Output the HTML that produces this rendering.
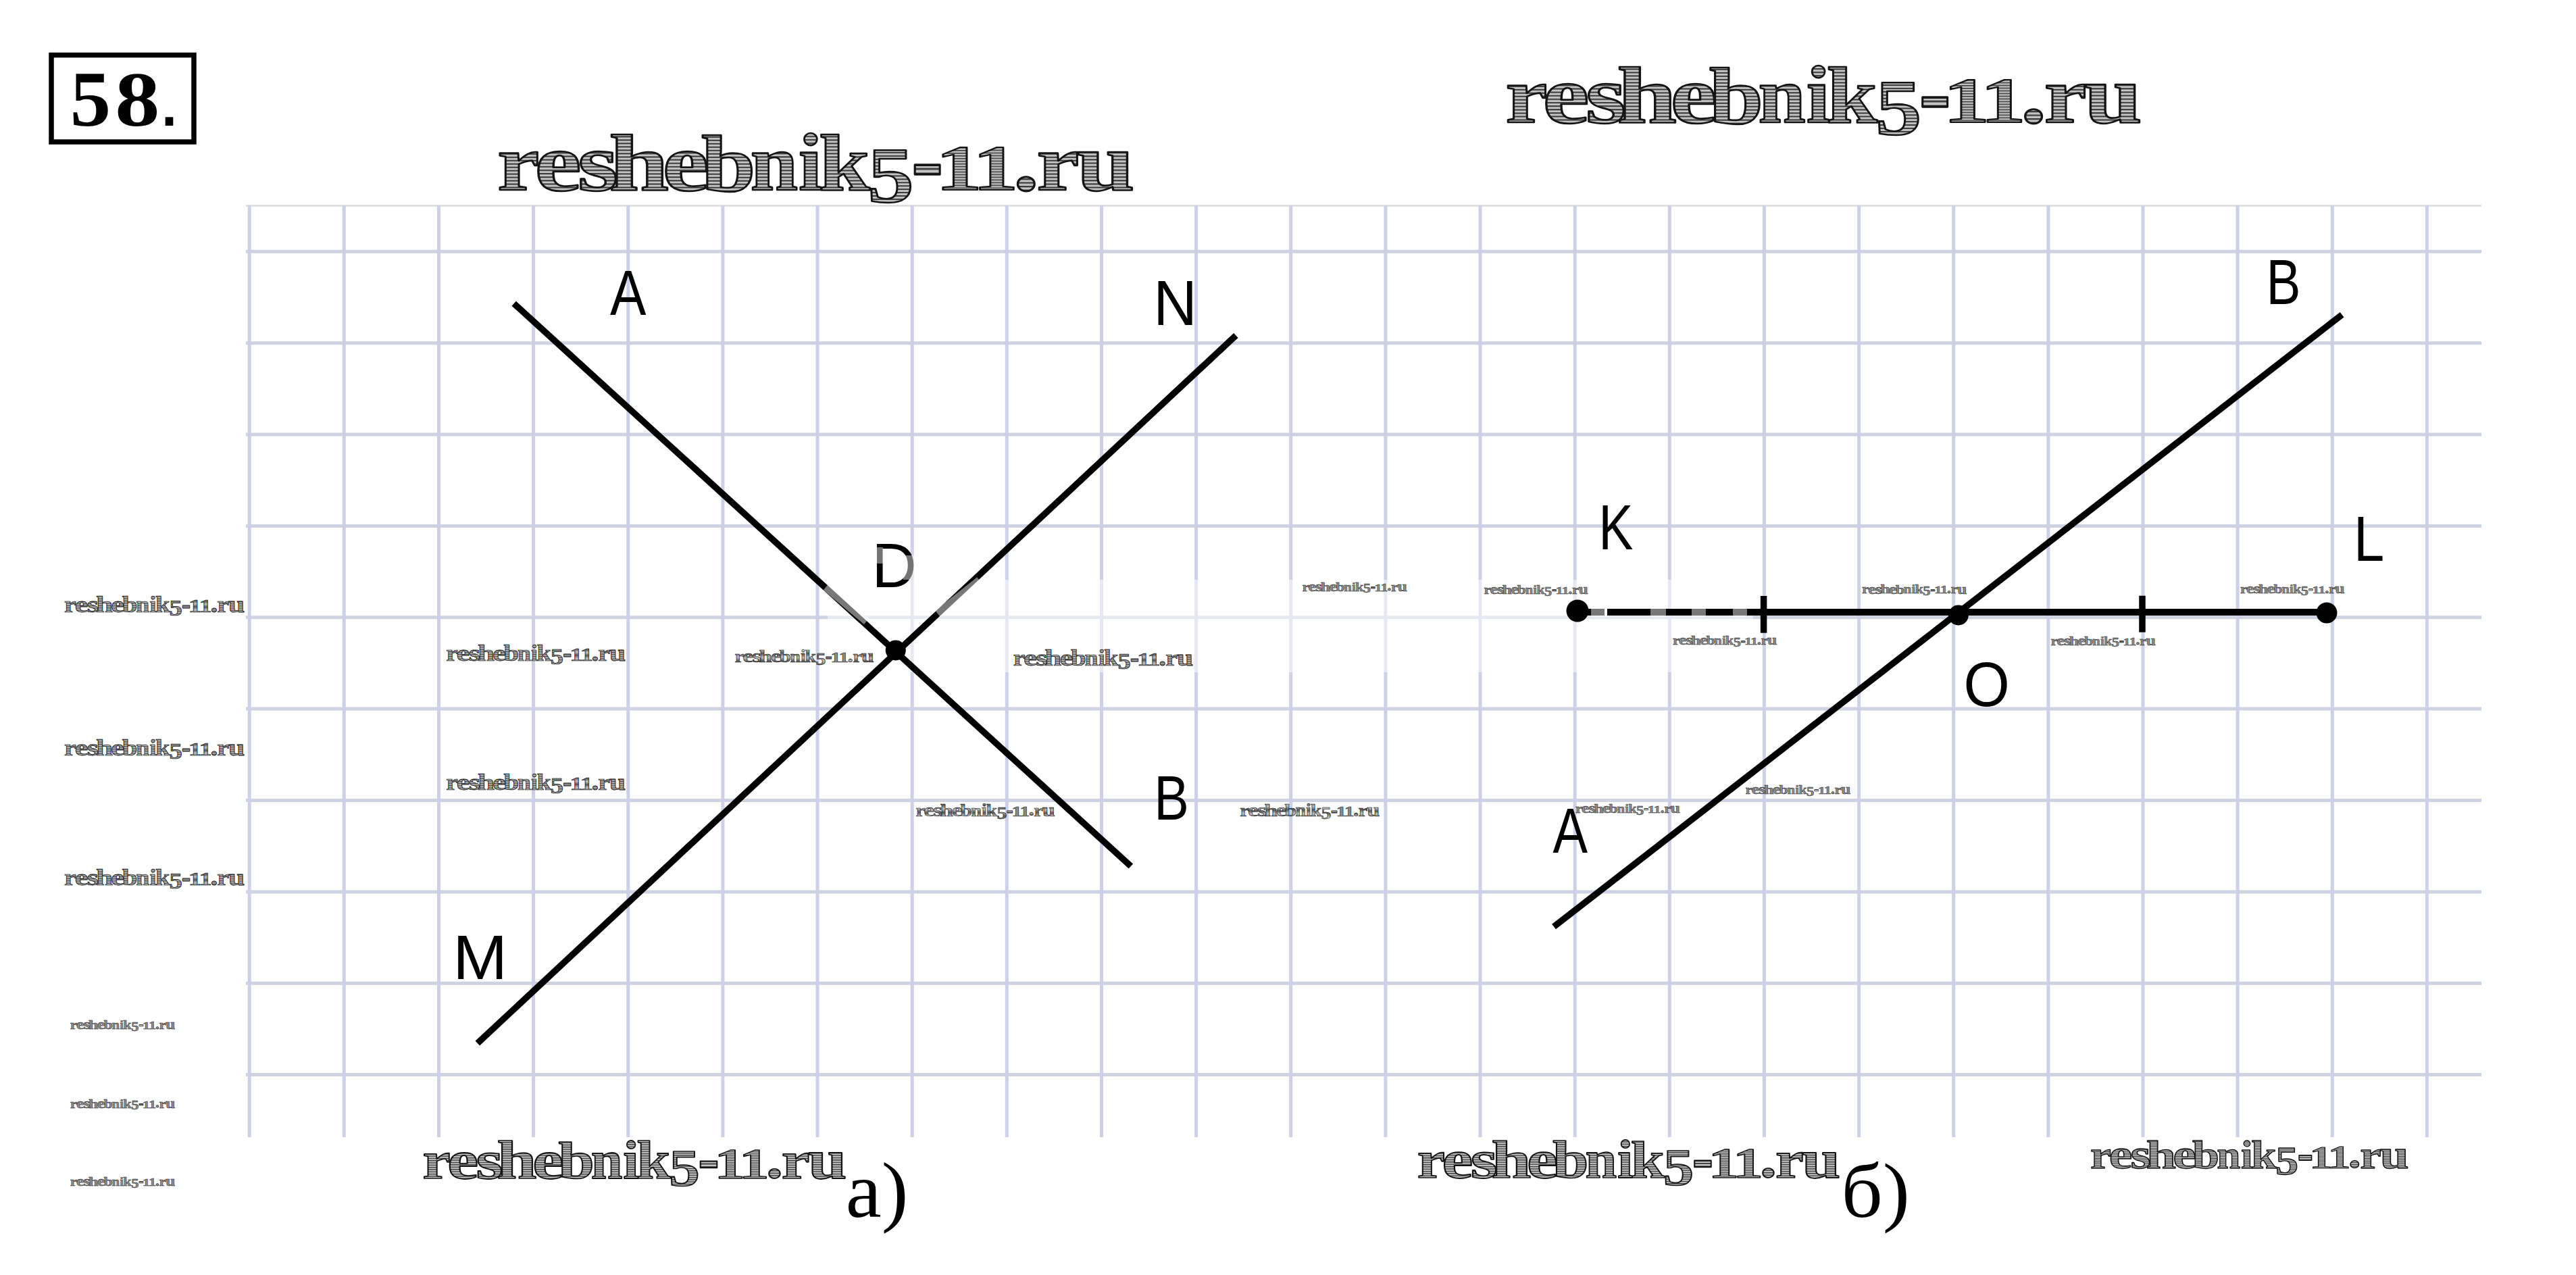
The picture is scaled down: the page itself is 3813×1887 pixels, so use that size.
<!DOCTYPE html>
<html><head><meta charset="utf-8"><title>58</title>
<style>
html,body{margin:0;padding:0;background:#fff;}
body{width:3813px;height:1887px;overflow:hidden;font-family:"Liberation Serif",serif;}
svg{display:block;}
</style></head>
<body>
<svg width="3813" height="1887" viewBox="0 0 3813 1887">
<defs>
<pattern id="hatch" patternUnits="userSpaceOnUse" width="8" height="4.2">
<rect width="8" height="4.2" fill="#c4c4c4"/>
<rect width="8" height="1.7" fill="#3a3a3a"/>
</pattern>
<g id="wmg" fill="url(#hatch)" stroke="#141414" stroke-width="2.2" stroke-linejoin="round"><text transform="matrix(1.49367 0 0 1.26316 -2.73 0.50)" font-family="Liberation Serif" font-weight="bold" font-size="100" >r</text><text transform="matrix(1.66234 0 0 1.30208 56.18 0.70)" font-family="Liberation Serif" font-weight="bold" font-size="100" >e</text><text transform="matrix(1.65075 0 0 1.30208 124.05 0.70)" font-family="Liberation Serif" font-weight="bold" font-size="100" >s</text><text transform="matrix(1.69903 0 0 1.27338 173.75 0.50)" font-family="Liberation Serif" font-weight="bold" font-size="100" >h</text><text transform="matrix(1.66234 0 0 1.30208 258.18 0.70)" font-family="Liberation Serif" font-weight="bold" font-size="100" >e</text><text transform="matrix(1.54000 0 0 1.26950 319.69 0.73)" font-family="Liberation Serif" font-weight="bold" font-size="100" >b</text><text transform="matrix(1.34951 0 0 1.27660 397.13 0.50)" font-family="Liberation Serif" font-weight="bold" font-size="100" >n</text><text transform="matrix(1.34694 0 0 1.28058 473.31 0.50)" font-family="Liberation Serif" font-weight="bold" font-size="100" >i</text><text transform="matrix(1.45094 0 0 1.27338 505.37 0.50)" font-family="Liberation Serif" font-weight="bold" font-size="100" >k</text><text transform="matrix(1.46118 0 0 1.25263 582.46 19.05)" font-family="Liberation Serif" font-weight="bold" font-size="100" >5</text><text transform="matrix(1.51923 0 0 1.75294 651.48 9.58)" font-family="Liberation Serif" font-weight="bold" font-size="100" >-</text><text transform="matrix(1.47568 0 0 1.00758 689.69 0.50)" font-family="Liberation Serif" font-weight="bold" font-size="100" >1</text><text transform="matrix(1.44324 0 0 1.01515 748.45 0.50)" font-family="Liberation Serif" font-weight="bold" font-size="100" >1</text><text transform="matrix(1.63125 0 0 1.40000 812.36 -0.50)" font-family="Liberation Serif" font-weight="bold" font-size="100" >.</text><text transform="matrix(1.51392 0 0 1.26316 849.52 0.50)" font-family="Liberation Serif" font-weight="bold" font-size="100" >r</text><text transform="matrix(1.64660 0 0 1.30851 912.73 0.69)" font-family="Liberation Serif" font-weight="bold" font-size="100" >u</text></g>
</defs>
<rect width="3813" height="1887" fill="#fff"/>
<g id="grid">
<line x1="364" y1="304.5" x2="3673" y2="304.5" stroke="#d9dbe0" stroke-width="2.5"/>
<line x1="364" y1="372.3" x2="3673" y2="372.3" stroke="#ced2e1" stroke-width="5"/>
<line x1="364" y1="507.7" x2="3673" y2="507.7" stroke="#ced2e1" stroke-width="5"/>
<line x1="364" y1="643.0" x2="3673" y2="643.0" stroke="#ced2e1" stroke-width="5"/>
<line x1="364" y1="778.4" x2="3673" y2="778.4" stroke="#ced2e1" stroke-width="5"/>
<line x1="364" y1="913.8" x2="3673" y2="913.8" stroke="#ced2e1" stroke-width="5"/>
<line x1="364" y1="1049.1" x2="3673" y2="1049.1" stroke="#ced2e1" stroke-width="5"/>
<line x1="364" y1="1184.5" x2="3673" y2="1184.5" stroke="#ced2e1" stroke-width="5"/>
<line x1="364" y1="1319.9" x2="3673" y2="1319.9" stroke="#ced2e1" stroke-width="5"/>
<line x1="364" y1="1455.2" x2="3673" y2="1455.2" stroke="#ced2e1" stroke-width="5"/>
<line x1="364" y1="1590.6" x2="3673" y2="1590.6" stroke="#ced2e1" stroke-width="5"/>
<line x1="369.2" y1="304" x2="369.2" y2="1683" stroke="#ced0e8" stroke-width="5"/>
<line x1="509.3" y1="304" x2="509.3" y2="1683" stroke="#ced0e8" stroke-width="5"/>
<line x1="649.5" y1="304" x2="649.5" y2="1683" stroke="#ced0e8" stroke-width="5"/>
<line x1="789.6" y1="304" x2="789.6" y2="1683" stroke="#ced0e8" stroke-width="5"/>
<line x1="929.8" y1="304" x2="929.8" y2="1683" stroke="#ced0e8" stroke-width="5"/>
<line x1="1069.9" y1="304" x2="1069.9" y2="1683" stroke="#ced0e8" stroke-width="5"/>
<line x1="1210.0" y1="304" x2="1210.0" y2="1683" stroke="#ced0e8" stroke-width="5"/>
<line x1="1350.2" y1="304" x2="1350.2" y2="1683" stroke="#ced0e8" stroke-width="5"/>
<line x1="1490.3" y1="304" x2="1490.3" y2="1683" stroke="#ced0e8" stroke-width="5"/>
<line x1="1630.5" y1="304" x2="1630.5" y2="1683" stroke="#ced0e8" stroke-width="5"/>
<line x1="1770.6" y1="304" x2="1770.6" y2="1683" stroke="#ced0e8" stroke-width="5"/>
<line x1="1910.7" y1="304" x2="1910.7" y2="1683" stroke="#ced0e8" stroke-width="5"/>
<line x1="2050.9" y1="304" x2="2050.9" y2="1683" stroke="#ced0e8" stroke-width="5"/>
<line x1="2191.0" y1="304" x2="2191.0" y2="1683" stroke="#ced0e8" stroke-width="5"/>
<line x1="2331.2" y1="304" x2="2331.2" y2="1683" stroke="#ced0e8" stroke-width="5"/>
<line x1="2471.3" y1="304" x2="2471.3" y2="1683" stroke="#ced0e8" stroke-width="5"/>
<line x1="2611.4" y1="304" x2="2611.4" y2="1683" stroke="#ced0e8" stroke-width="5"/>
<line x1="2751.6" y1="304" x2="2751.6" y2="1683" stroke="#ced0e8" stroke-width="5"/>
<line x1="2891.7" y1="304" x2="2891.7" y2="1683" stroke="#ced0e8" stroke-width="5"/>
<line x1="3031.9" y1="304" x2="3031.9" y2="1683" stroke="#ced0e8" stroke-width="5"/>
<line x1="3172.0" y1="304" x2="3172.0" y2="1683" stroke="#ced0e8" stroke-width="5"/>
<line x1="3312.1" y1="304" x2="3312.1" y2="1683" stroke="#ced0e8" stroke-width="5"/>
<line x1="3452.3" y1="304" x2="3452.3" y2="1683" stroke="#ced0e8" stroke-width="5"/>
<line x1="3592.4" y1="304" x2="3592.4" y2="1683" stroke="#ced0e8" stroke-width="5"/>
<rect x="1225" y="858" width="1370" height="137" fill="#fff" fill-opacity="0.5"/>
</g>
<g id="wm">
<use href="#wmg" transform="matrix(0.93660 0 0 0.93660 738.80 281.00)"/>
<use href="#wmg" transform="matrix(0.93560 0 0 0.93560 2231.00 181.00)"/>
<use href="#wmg" transform="matrix(0.62330 0 0 0.62330 627.30 1743.20)"/>
<use href="#wmg" transform="matrix(0.62200 0 0 0.62200 2099.50 1742.50)"/>
<use href="#wmg" transform="matrix(0.46820 0 0 0.46820 3095.40 1728.70)"/>
<use href="#wmg" transform="matrix(0.26540 0 0 0.26540 95.80 906.00)"/>
<use href="#wmg" transform="matrix(0.26540 0 0 0.26540 95.80 1118.00)"/>
<use href="#wmg" transform="matrix(0.26540 0 0 0.26540 95.80 1310.00)"/>
<use href="#wmg" transform="matrix(0.15460 0 0 0.15460 104.20 1523.00)"/>
<use href="#wmg" transform="matrix(0.15460 0 0 0.15460 104.20 1639.50)"/>
<use href="#wmg" transform="matrix(0.15460 0 0 0.15460 104.20 1754.80)"/>
<use href="#wmg" transform="matrix(0.26410 0 0 0.26410 661.00 978.00)"/>
<use href="#wmg" transform="matrix(0.26410 0 0 0.26410 661.00 1169.00)"/>
<use href="#wmg" transform="matrix(0.20500 0 0 0.20500 1088.00 980.30)"/>
<use href="#wmg" transform="matrix(0.26460 0 0 0.26460 1500.40 985.00)"/>
<use href="#wmg" transform="matrix(0.20500 0 0 0.20500 1356.00 1207.60)"/>
<use href="#wmg" transform="matrix(0.20580 0 0 0.20580 1835.70 1208.00)"/>
<use href="#wmg" transform="matrix(0.15430 0 0 0.15430 1927.90 874.50)"/>
<use href="#wmg" transform="matrix(0.15310 0 0 0.15310 2196.90 878.60)"/>
<use href="#wmg" transform="matrix(0.15430 0 0 0.15430 2756.50 878.40)"/>
<use href="#wmg" transform="matrix(0.15360 0 0 0.15360 3316.40 878.00)"/>
<use href="#wmg" transform="matrix(0.15320 0 0 0.15320 2476.40 954.30)"/>
<use href="#wmg" transform="matrix(0.15430 0 0 0.15430 3035.90 954.50)"/>
<use href="#wmg" transform="matrix(0.15390 0 0 0.15390 2332.40 1203.00)"/>
<use href="#wmg" transform="matrix(0.15470 0 0 0.15470 2584.00 1175.00)"/>
</g>
<g id="fig">
<line x1="760.7" y1="449.2" x2="1673.9" y2="1282" stroke="#000" stroke-width="9.5"/>
<line x1="706.8" y1="1544" x2="1829.4" y2="496.5" stroke="#000" stroke-width="9.5"/>
<circle cx="1325.8" cy="962.5" r="15" fill="#000"/>
<line x1="2300" y1="1371.6" x2="3466.6" y2="465.7" stroke="#000" stroke-width="9.5"/>
<line x1="2335" y1="906" x2="3444" y2="906" stroke="#000" stroke-width="10"/>
<line x1="2610.6" y1="882" x2="2610.6" y2="936.7" stroke="#000" stroke-width="9.5"/>
<line x1="3171" y1="881.7" x2="3171" y2="935.7" stroke="#000" stroke-width="9.5"/>
<circle cx="2335" cy="904" r="16.5" fill="#000"/>
<circle cx="2898.8" cy="910.5" r="15" fill="#000"/>
<circle cx="3444" cy="907" r="15.5" fill="#000"/>
<line x1="1222.6" y1="868.6" x2="1282.8" y2="919.4" stroke="#fff" stroke-opacity="0.47" stroke-width="12"/>
<line x1="1388" y1="908.2" x2="1450" y2="859.0" stroke="#fff" stroke-opacity="0.47" stroke-width="12"/>
<rect x="2355" y="899" width="20" height="14" fill="#fff" fill-opacity="0.47"/>
<rect x="2443" y="899" width="23" height="14" fill="#fff" fill-opacity="0.47"/>
<rect x="2504" y="899" width="21" height="14" fill="#fff" fill-opacity="0.47"/>
<rect x="2565" y="899" width="21" height="14" fill="#fff" fill-opacity="0.47"/>
<rect x="2375" y="899" width="4" height="14" fill="#fff"/>
</g>
<g id="labels">
<text transform="matrix(0.80152 0 0 0.94058 902.90 466.10)" font-family="Liberation Sans" font-weight="normal" font-size="100" fill="#000" >A</text>
<text transform="matrix(0.89464 0 0 0.94493 1707.24 480.50)" font-family="Liberation Sans" font-weight="normal" font-size="100" fill="#000" >N</text>
<text transform="matrix(0.91765 0 0 0.92754 1290.56 868.50)" font-family="Liberation Sans" font-weight="normal" font-size="100" fill="#000" >D</text>
<text transform="matrix(0.97015 0 0 0.92754 670.14 1449.20)" font-family="Liberation Sans" font-weight="normal" font-size="100" fill="#000" >M</text>
<text transform="matrix(0.77383 0 0 0.92464 1708.21 1213.00)" font-family="Liberation Sans" font-weight="normal" font-size="100" fill="#000" >B</text>
<text transform="matrix(0.76870 0 0 0.94058 2366.35 813.40)" font-family="Liberation Sans" font-weight="normal" font-size="100" fill="#000" >K</text>
<text transform="matrix(0.81348 0 0 0.94928 3484.09 829.70)" font-family="Liberation Sans" font-weight="normal" font-size="100" fill="#000" >L</text>
<text transform="matrix(0.87883 0 0 0.91831 2906.45 1045.08)" font-family="Liberation Sans" font-weight="normal" font-size="100" fill="#000" >O</text>
<text transform="matrix(0.77273 0 0 0.93913 2298.61 1261.80)" font-family="Liberation Sans" font-weight="normal" font-size="100" fill="#000" >A</text>
<text transform="matrix(0.76449 0 0 0.94058 3354.58 450.10)" font-family="Liberation Sans" font-weight="normal" font-size="100" fill="#000" >B</text>
<rect x="1296" y="810" width="11" height="24" fill="#fff" fill-opacity="0.45"/>
<rect x="1337" y="822" width="17" height="36" fill="#fff" fill-opacity="0.45"/>
<text transform="matrix(1.19286 0 0 1.17444 1251.73 1800.54)" font-family="Liberation Serif" font-weight="normal" font-size="100" fill="#000" >a)</text>
<text transform="matrix(1.20662 0 0 1.14595 2725.47 1801.14)" font-family="Liberation Serif" font-weight="normal" font-size="100" fill="#000" >б)</text>
</g>
<g id="box">
<rect x="76" y="81.5" width="211" height="128.5" fill="none" stroke="#000" stroke-width="7.5"/>
<text transform="matrix(1.20706 0 0 1.16090 103.87 185.54)" font-family="Liberation Serif" font-weight="bold" font-size="100" fill="#000" >5</text><text transform="matrix(1.32558 0 0 1.15111 170.36 185.55)" font-family="Liberation Serif" font-weight="bold" font-size="100" fill="#000" >8</text><rect x="244.7" y="173.3" width="11.6" height="12.7" fill="#000"/>
</g>
</svg>
</body></html>
